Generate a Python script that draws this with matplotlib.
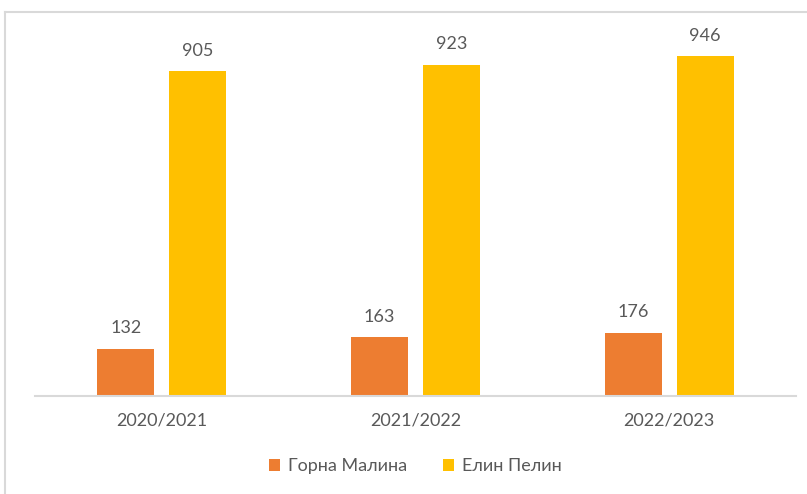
import matplotlib
matplotlib.use("Agg")
import matplotlib.pyplot as plt
from matplotlib.lines import Line2D
import numpy as np

years = ["2020/2021", "2021/2022", "2022/2023"]
gorna_malina = [132, 163, 176]
elin_pelin = [905, 923, 946]
series_names = ["Горна Малина", "Елин Пелин"]
colors = ["#ED7D31", "#FFC000"]

plt.rcParams["font.family"] = ["Lato", "Open Sans", "DejaVu Sans"]
TXT = "#595959"

fig = plt.figure(figsize=(8.07, 4.94), dpi=100)
ax = fig.add_axes([35 / 807, 1 - 396 / 494, 761 / 807, 359 / 494])

x = np.arange(len(years))
w = 0.225
off = 0.142
for vals, dx, c, name in zip([gorna_malina, elin_pelin], [-off, off], colors, series_names):
    bars = ax.bar(x + dx, vals, width=w, color=c, label=name, zorder=2)
    for b, v in zip(bars, vals):
        ax.annotate(str(v), (b.get_x() + b.get_width() / 2, v), xytext=(0, 9),
                    textcoords="offset points", ha="center", va="bottom",
                    fontsize=13, color=TXT)

ax.set_xlim(-0.5, 2.5)
ax.set_ylim(0, 1000)
ax.set_xticks(x)
ax.set_xticklabels(years, fontsize=13, color=TXT)
ax.tick_params(axis="x", length=0, pad=12)
ax.set_yticks([])
for s in ["top", "right", "left"]:
    ax.spines[s].set_visible(False)
ax.spines["bottom"].set_color("#D9D9D9")
ax.spines["bottom"].set_linewidth(1.5)

leg = fig.legend(loc="center", bbox_to_anchor=(415 / 807, 1 - 466 / 494), ncol=2,
                 frameon=False, fontsize=13, handlelength=0.65, handleheight=0.65,
                 handletextpad=0.4, columnspacing=2.0)
for t in leg.get_texts():
    t.set_color(TXT)

# chart frame (top and left edges visible)
fig.add_artist(Line2D([5 / 807, 1], [1 - 12 / 494, 1 - 12 / 494],
                      transform=fig.transFigure, color="#D9D9D9", lw=1.5))
fig.add_artist(Line2D([5 / 807, 5 / 807], [0, 1 - 12 / 494],
                      transform=fig.transFigure, color="#D9D9D9", lw=1.5))

fig.savefig("out.png", dpi=100)
